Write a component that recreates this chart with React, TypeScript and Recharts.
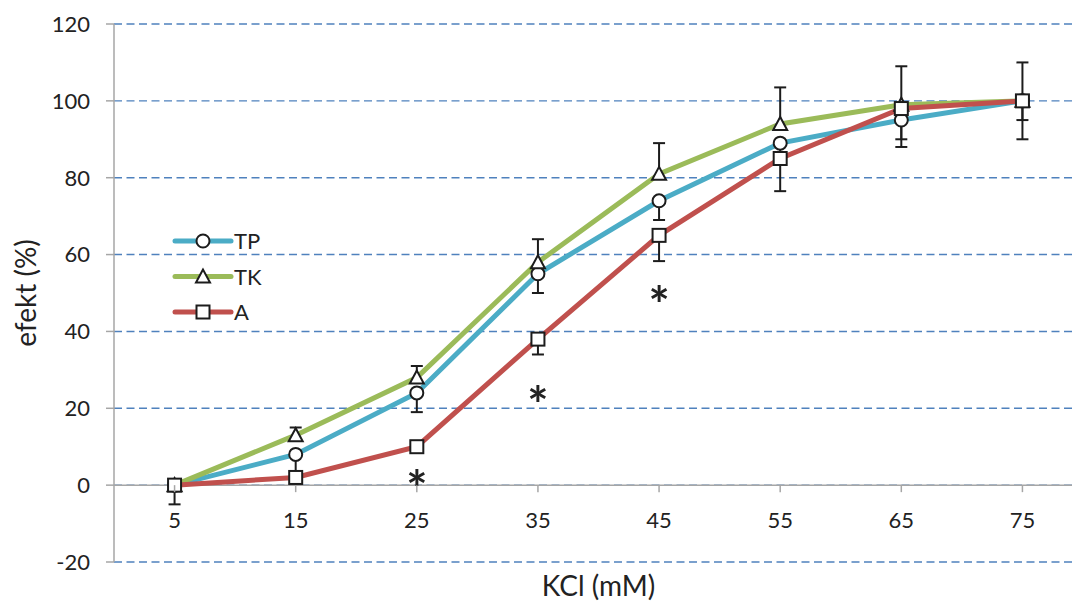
import React from 'react';
import { ComposedChart, Line, XAxis, YAxis, CartesianGrid, ReferenceLine, Legend } from 'recharts';

const categories = ['5', '15', '25', '35', '45', '55', '65', '75'];
const tpValues = [0, 8, 24, 55, 74, 89, 95, 100];
const tkValues = [0, 13, 28, 58, 81, 94, 99, 100];
const aValues = [0, 2, 10, 38, 65, 85, 98, 100];
// TP and A show minus error bars, TK shows plus error bars
const tpMinusErrors = [0, 5, 5, 5, 5, 4, 5, 5];
const tkPlusErrors = [0, 2, 3, 6, 8, 9.5, 10, 10];
const aMinusErrors = [5, 1, 1, 4, 6.7, 8.5, 10, 10];
const yTicks = [-20, 0, 20, 40, 60, 80, 100, 120];
const starValues: (number | null)[] = [null, null, 2, 24, 50, null, null, null];

const data = categories.map((c, i) => ({
  cat: c,
  tp: tpValues[i], tpErr: tpMinusErrors[i],
  tk: tkValues[i], tkErr: tkPlusErrors[i],
  a: aValues[i], aErr: aMinusErrors[i],
  star: starValues[i],
}));

const FONT = 'Lato, "Open Sans", sans-serif';
const TEXT = '#222222';
const AXIS = '#A6A6A6';
const GRID = '#4F81BD';
const MARK = '#1c1c1c';

const W = 1096, H = 601;
const M = { top: 24, right: 13, bottom: 0, left: 0 };
const YW = 114, XH = 39;
const PLOT_W = W - M.left - M.right - YW;
const PLOT_H = H - M.top - M.bottom - XH;
const HALF_BAND = PLOT_W / categories.length / 2;
const Y_MIN = -20, Y_MAX = 120;
const PX_PER_UNIT = PLOT_H / (Y_MAX - Y_MIN);
const zeroShift = (0 - Y_MIN) * PX_PER_UNIT;

function Marker({ kind, cx, cy }: { kind: string; cx: number; cy: number }) {
  if (cx == null || cy == null || isNaN(cx) || isNaN(cy)) return null;
  if (kind === 'circle') return <circle cx={cx} cy={cy} r={6.5} fill="#fff" stroke={MARK} strokeWidth={2} />;
  if (kind === 'triangle')
    return <polygon points={`${cx},${cy - 7} ${cx - 7},${cy + 6} ${cx + 7},${cy + 6}`} fill="#fff" stroke={MARK} strokeWidth={2} strokeLinejoin="miter" />;
  return <rect x={cx - 6.5} y={cy - 6.5} width={13} height={13} fill="#fff" stroke={MARK} strokeWidth={2} />;
}

const series = [
  { key: 'tp', err: 'tpErr', dir: 1, name: 'TP', color: '#4BACC6', marker: 'circle' },
  { key: 'tk', err: 'tkErr', dir: -1, name: 'TK', color: '#9BBB59', marker: 'triangle' },
  { key: 'a', err: 'aErr', dir: 1, name: 'A', color: '#C0504D', marker: 'square' },
];

function Whisker(props: any) {
  const { cx, cy, payload, errKey, dir, index } = props;
  const e = payload ? payload[errKey] : 0;
  if (cx == null || cy == null || !e) return <g key={`w-${errKey}-${index}`} />;
  const yEnd = cy + dir * e * PX_PER_UNIT;
  return (
    <g key={`w-${errKey}-${index}`}>
      <line x1={cx} x2={cx} y1={cy} y2={yEnd} stroke={MARK} strokeWidth={2} />
      <line x1={cx - 6} x2={cx + 6} y1={yEnd} y2={yEnd} stroke={MARK} strokeWidth={2} />
    </g>
  );
}

function XTick(props: any) {
  const { x, y, payload } = props;
  const y0 = y - zeroShift;
  return (
    <g>
      <line x1={x} x2={x} y1={y0} y2={y0 + 7} stroke={AXIS} strokeWidth={1.5} />
      <text x={x} y={y0 + 43} textAnchor="middle" fontSize={22} fontFamily={FONT} fill={TEXT}>{payload.value}</text>
    </g>
  );
}

function LegendContent() {
  return (
    <svg width={110} height={110}>
      {series.map((s, i) => {
        const cy = 16 + i * 35.5;
        return (
          <g key={s.key}>
            <line x1={5} x2={61} y1={cy} y2={cy} stroke={s.color} strokeWidth={5} strokeLinecap="round" />
            <Marker kind={s.marker} cx={33} cy={cy} />
            <text x={64} y={cy + 8} fontSize={22} fontFamily={FONT} fill={TEXT}>{s.name}</text>
          </g>
        );
      })}
    </svg>
  );
}

function Star(props: any) {
  const { cx, cy, index, value } = props;
  if (cx == null || cy == null || value == null || isNaN(cy)) return <g key={`s-${index}`} />;
  return (
    <text key={`s-${index}`} x={cx} y={cy + 30} textAnchor="middle" fontSize={50} fontWeight={700} fontFamily={FONT} fill={TEXT}>*</text>
  );
}

export default function App() {
  return (
    <div style={{ position: 'relative', width: 1080, height: 601, marginLeft: -8, marginTop: -8, overflow: 'hidden', background: '#fff' }}>
      <ComposedChart width={W} height={H} data={data} margin={M}>
        <CartesianGrid vertical={false} stroke={GRID} strokeWidth={1.4} strokeDasharray="8 4.5" />
        <XAxis
          dataKey="cat"
          type="category"
          height={XH}
          padding={{ left: HALF_BAND, right: HALF_BAND }}
          axisLine={false}
          tickLine={false}
          tickSize={0}
          tickMargin={0}
          tick={<XTick />}
          interval={0}
          label={{ value: 'KCl (mM)', position: 'insideBottom', offset: 5, fontSize: 28, fontFamily: FONT, fill: TEXT }}
        />
        <YAxis
          type="number"
          domain={[Y_MIN, Y_MAX]}
          ticks={yTicks}
          interval={0}
          width={YW}
          axisLine={{ stroke: AXIS, strokeWidth: 1.5 }}
          tickLine={{ stroke: AXIS, strokeWidth: 1.5 }}
          tickSize={8}
          tickMargin={16}
          tick={{ fontSize: 22, fontFamily: FONT, fill: TEXT }}
          label={{ value: 'efekt (%)', angle: -90, position: 'insideLeft', offset: 26, fontSize: 28, fontFamily: FONT, fill: TEXT, style: { textAnchor: 'middle' } }}
        />
        <ReferenceLine y={0} stroke={AXIS} strokeWidth={1.5} />
        {series.map((s) => (
          <Line
            key={`${s.key}-errors`}
            dataKey={s.key}
            legendType="none"
            type="linear"
            stroke="none"
            isAnimationActive={false}
            dot={(p: any) => <Whisker key={`w-${s.key}-${p.index}`} {...p} errKey={s.err} dir={s.dir} />}
            activeDot={false}
          />
        ))}
        {series.map((s) => (
          <Line
            key={s.key}
            dataKey={s.key}
            name={s.name}
            type="linear"
            stroke={s.color}
            strokeWidth={5}
            isAnimationActive={false}
            dot={false}
            activeDot={false}
          />
        ))}
        {series.map((s) => (
          <Line
            key={`${s.key}-markers`}
            dataKey={s.key}
            legendType="none"
            type="linear"
            stroke="none"
            isAnimationActive={false}
            dot={(p: any) => <Marker key={`${s.key}-${p.index}`} kind={s.marker} cx={p.cx} cy={p.cy} />}
            activeDot={false}
          />
        ))}
        <Line
          dataKey="star"
          stroke="none"
          legendType="none"
          isAnimationActive={false}
          connectNulls={false}
          dot={(p: any) => <Star {...p} />}
          activeDot={false}
        />
        <Legend layout="vertical" align="center" verticalAlign="middle" content={<LegendContent />} wrapperStyle={{ position: 'absolute', left: 170, top: 225, width: 110, height: 110 }} />
      </ComposedChart>
    </div>
  );
}
